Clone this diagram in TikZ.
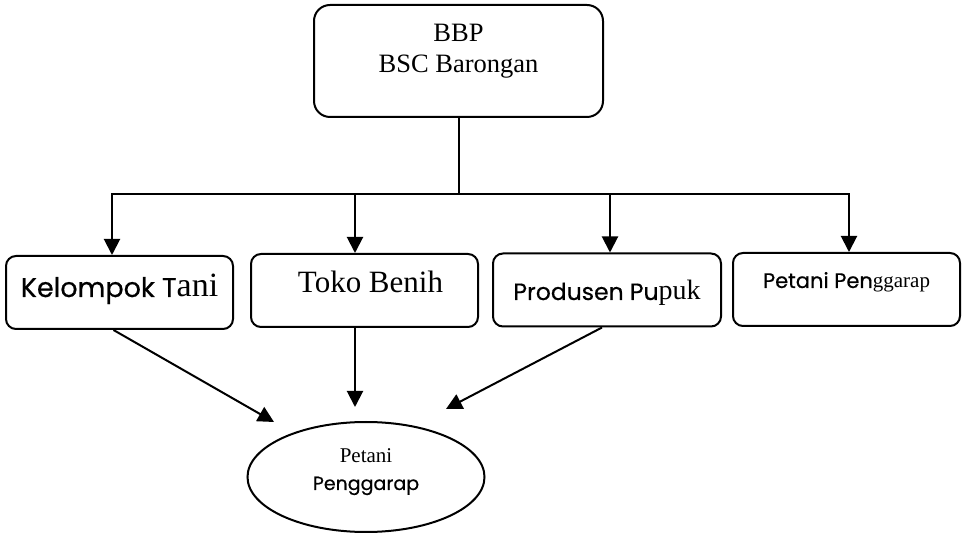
\documentclass[tikz,border=0pt]{standalone}
\usepackage{fontspec}
\setmainfont{Liberation Serif}
\newfontfamily\gothic[BoldFont={Poppins},BoldFeatures={FakeBold=0.5}]{Poppins}
\usetikzlibrary{arrows.meta,shapes.geometric}
\newcommand{\fsz}[2]{\fontsize{#1}{#2}\selectfont}

\begin{document}
\begin{tikzpicture}[x=1pt,y=-1pt,
	box/.style={draw,line width=2pt,rounded corners=10pt,inner sep=0pt,minimum width=227pt,minimum height=73pt},
	arr/.style={line width=2pt,-{Triangle[length=16pt,width=16pt]}}]
			\useasboundingbox (0,0) rectangle (962,534);
			\node[box,rounded corners=16pt,minimum width=289pt,minimum height=112pt,align=center,font=\fsz{26.5}{31},text height=48pt,text depth=24pt] (bbp) at (458.5,61) {BBP\\BSC Barongan};
			\node[box,text height=20pt,text depth=11pt] (kel) at (119.5,292.5) {{\gothic\bfseries\fsz{27}{34}Kelompok T}{\fsz{34}{40}ani}};
			\node[box,text height=21pt,text depth=16pt] (toko) at (364.5,290.5) {\fsz{31}{37}\hspace{12pt}Toko Benih};
			\node[box,minimum width=228pt,text height=20pt,text depth=0pt] (pro) at (607,290) {{\gothic\bfseries\fsz{23.5}{30}Produsen Pu}{\fsz{28}{34}puk}};
			\node[box,text height=15pt,text depth=18pt] (pet) at (846.5,289.5) {{\gothic\bfseries\fsz{21}{26}Petani Pen}{\fsz{21}{26}ggarap}};
			\node[draw,ellipse,line width=2pt,inner sep=0pt,minimum width=237pt,minimum height=110pt,align=center,font=\fsz{21}{27},text height=41pt,text depth=15pt] (pp) at (366,477) {Petani\\{\gothic\bfseries\fsz{19}{27}Penggarap}};
			\coordinate (b1) at (112,194);
			\coordinate (b2) at (355,194);
			\coordinate (b3) at (610,194);
			\coordinate (b4) at (849,194);
			\coordinate (t1) at (274,422);
			\coordinate (t2) at (355,407);
			\coordinate (t3) at (446,409);
			\draw[line width=2pt] (bbp) -- (bbp |- b1);
			\draw[line width=2pt] (b2) -- (b3);
			\draw[arr] (b2) -- (b1) -- (b1 |- kel.north);
			\draw[arr] (b3) -- (b4) -- (b4 |- pet.north);
			\path[arr]
			(b2) edge (b2 |- toko.north)
			(b3) edge (b3 |- pro.north)
			([xshift=-6pt]kel.south) edge (t1)
			(b2 |- toko.south) edge (t2)
			([xshift=-5pt]pro.south) edge (t3);
		\end{tikzpicture}
\end{document}
